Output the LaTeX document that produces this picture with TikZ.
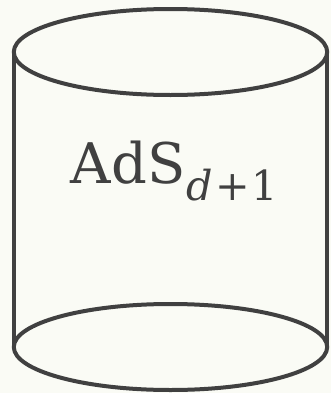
\documentclass[tikz,border=0pt]{standalone}
\usepackage{fontspec}
\setmainfont{DejaVu Serif}
\definecolor{bgc}{HTML}{FAFBF5}
\definecolor{ink}{HTML}{404040}
\newcommand{\subtxt}[1]{\raisebox{-12.75pt}{\fontsize{31}{36}\selectfont #1}}
\begin{document}
\begin{tikzpicture}[x=0.75pt,y=-0.75pt,
  rim/.style={draw=ink,line width=3pt},
  lbl/.style={text=ink,inner sep=0pt,font=\fontsize{42}{50}\selectfont}]
\fill[bgc] (0,0) rectangle (331,393);
\useasboundingbox (0,0) rectangle (331,393);
\coordinate (tl) at (13.8,52);
\coordinate (tr) at (327.2,52);
\coordinate (bl) at (13.8,347);
\coordinate (br) at (327.2,347);
\draw[rim] (tl) -- (bl);
\draw[rim] (tr) -- (br);
\draw[rim] (170.5,347) ellipse [x radius=156.7, y radius=43];
\draw[rim] (170.5,52) ellipse [x radius=156.7, y radius=43];
\node[lbl,anchor=base] (title) at (174.5,183) {AdS\kern1pt\subtxt{\itshape d\upshape\kern1.5pt+\kern1.5pt1}};
\end{tikzpicture}
\end{document}
